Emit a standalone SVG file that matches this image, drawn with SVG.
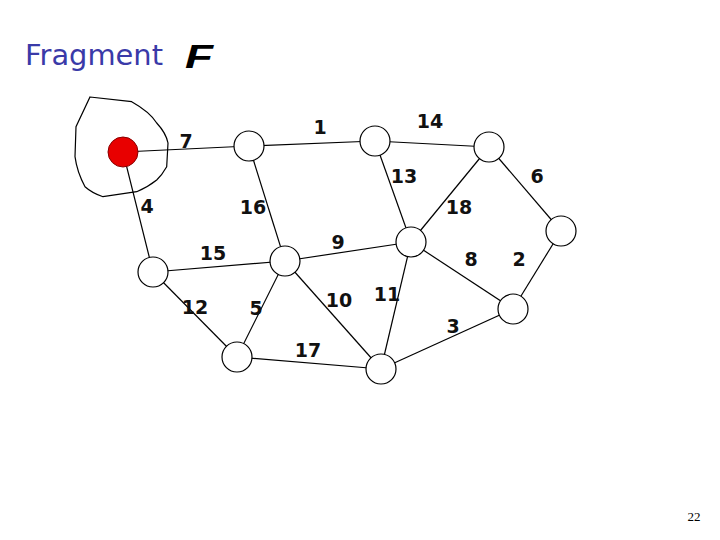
<svg xmlns="http://www.w3.org/2000/svg" width="720" height="540" viewBox="0 0 720 540">
<style>
.e{stroke:#000;stroke-width:1.2;fill:none}
.n{fill:#fff;stroke:#000;stroke-width:1.2}
.l{font-family:"DejaVu Sans",Verdana,sans-serif;font-size:19px;font-weight:bold;fill:#111;text-anchor:middle}
</style>
<rect width="720" height="540" fill="#fff"/>
<text x="25" y="65" font-family="'DejaVu Sans',sans-serif" font-size="28" fill="#3a3aa8" textLength="138" lengthAdjust="spacingAndGlyphs">Fragment</text>
<text x="185" y="68" font-family="'Liberation Sans',sans-serif" font-size="34" font-style="italic" font-weight="bold" fill="#000" textLength="28" lengthAdjust="spacingAndGlyphs">F</text>
<path class="e" d="M90,97 L131.7,101.7 Q150,112 156.7,123 Q166,133 168,143 L166.7,166.7 Q162,175 156.7,180 Q148,187 136.7,191.7 L103,196.7 Q92,193 85,186.7 Q77,172 75,156.7 L76,126.7 Z"/>
<g id="edges">
<line class="e" x1="123" y1="152" x2="249" y2="146"/>
<line class="e" x1="123" y1="152" x2="153" y2="272"/>
<line class="e" x1="249" y1="146" x2="375" y2="141"/>
<line class="e" x1="249" y1="146" x2="285" y2="261"/>
<line class="e" x1="375" y1="141" x2="489" y2="147"/>
<line class="e" x1="375" y1="141" x2="411" y2="242"/>
<line class="e" x1="489" y1="147" x2="411" y2="242"/>
<line class="e" x1="489" y1="147" x2="561" y2="231"/>
<line class="e" x1="561" y1="231" x2="513" y2="309"/>
<line class="e" x1="411" y1="242" x2="513" y2="309"/>
<line class="e" x1="411" y1="242" x2="285" y2="261"/>
<line class="e" x1="411" y1="242" x2="381" y2="369"/>
<line class="e" x1="285" y1="261" x2="153" y2="272"/>
<line class="e" x1="285" y1="261" x2="237" y2="357"/>
<line class="e" x1="285" y1="261" x2="381" y2="369"/>
<line class="e" x1="153" y1="272" x2="237" y2="357"/>
<line class="e" x1="237" y1="357" x2="381" y2="369"/>
<line class="e" x1="381" y1="369" x2="513" y2="309"/>
</g>
<g id="labels">
<text class="l" x="186" y="148">7</text>
<text class="l" x="320" y="134">1</text>
<text class="l" x="430" y="128">14</text>
<text class="l" x="404" y="183">13</text>
<text class="l" x="537" y="183">6</text>
<text class="l" x="147" y="213">4</text>
<text class="l" x="253" y="214">16</text>
<text class="l" x="459" y="214">18</text>
<text class="l" x="338" y="249">9</text>
<text class="l" x="213" y="260">15</text>
<text class="l" x="471" y="266">8</text>
<text class="l" x="519" y="266">2</text>
<text class="l" x="195" y="314">12</text>
<text class="l" x="256" y="315">5</text>
<text class="l" x="339" y="307">10</text>
<text class="l" x="387" y="301">11</text>
<text class="l" x="453" y="333">3</text>
<text class="l" x="308" y="357">17</text>
</g>
<g id="nodeR"><circle cx="123" cy="152" r="15" fill="#e80000" stroke="#800" stroke-width="1"/></g>
<g id="nodeA"><circle class="n" cx="249" cy="146" r="15"/></g>
<g id="nodeB"><circle class="n" cx="375" cy="141" r="15"/></g>
<g id="nodeC"><circle class="n" cx="489" cy="147" r="15"/></g>
<g id="nodeD"><circle class="n" cx="561" cy="231" r="15"/></g>
<g id="nodeE"><circle class="n" cx="411" cy="242" r="15"/></g>
<g id="nodeF"><circle class="n" cx="285" cy="261" r="15"/></g>
<g id="nodeG"><circle class="n" cx="153" cy="272" r="15"/></g>
<g id="nodeH"><circle class="n" cx="237" cy="357" r="15"/></g>
<g id="nodeI"><circle class="n" cx="381" cy="369" r="15"/></g>
<g id="nodeJ"><circle class="n" cx="513" cy="309" r="15"/></g>
<text x="694" y="521" font-family="'Liberation Serif',serif" font-size="13" fill="#000" text-anchor="middle">22</text>
</svg>
